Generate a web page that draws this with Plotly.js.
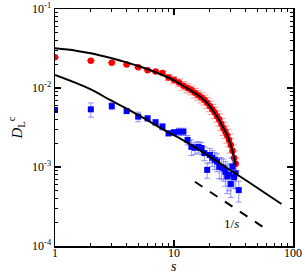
<!DOCTYPE html>
<html><head><meta charset="utf-8">
<script src="https://cdn.plot.ly/plotly-3.0.1.min.js"></script>
<style>html,body{margin:0;padding:0;background:#fff}#plot{width:305px;height:273px}</style>
</head><body><div id="plot"></div>
<script>
// red series (circles)
const redS = [1,2,3,4,5,6,7,8,9,10,11,12,13,14,15,16,17,18,19,20,21,22,23,24,25,26,27,28,29,30,31,32,33];
const redD = [0.0245,0.0222,0.0209,0.0199,0.0183,0.0168,0.0162,0.0155,0.0136,0.0126,0.0117,0.0107,0.0100,0.0094,0.0087,0.0081,0.0076,0.0071,0.0065,0.0059,0.0054,0.0049,0.0044,0.0040,0.0035,0.0031,0.0028,0.0025,0.0022,0.0019,0.0016,0.0013,0.0011];
const redErr = [0,0,0,0,0,0,0,0.0008,0.0012,0.0013,0.0013,0.0013,0.0013,0.0012,0.0012,0.0011,0.0011,0.0010,0.0010,0.0009,0.0008,0.0008,0.0007,0.0007,0.0006,0.0006,0.0005,0.0005,0.0004,0.0004,0.0003,0.0003,0.0002];
// blue series (squares)
const blueS = [1,2,3,4,5,6,7,8,9,10,11,12,13,14,15,16,17,18,19,20,21,22,23,24,25,26,27,28,29,30,31,32,33,35];
const blueD = [0.00527,0.00537,0.0059,0.0051,0.00434,0.00413,0.00368,0.00324,0.00267,0.00275,0.0028,0.0028,0.0022,0.0018,0.00175,0.0018,0.00174,0.0015,0.00092,0.00142,0.00131,0.00123,0.00117,0.00101,0.0010,0.00096,0.00087,0.00076,0.0008,0.00061,0.00101,0.00074,0.00083,0.00051];
const blueErr = [0,0.0011,0.0006,0.0003,0.0006,0.0003,0.0003,0.0003,0.0002,0.0002,0.0003,0.0003,0.0003,0.0004,0.0003,0.0003,0.0003,0.0003,0.0002,0.0003,0.0003,0.0003,0.0003,0.0003,0.0003,0.0003,0.0003,0.0003,0.0003,0.0002,0.0003,0.0002,0.0003,0.00015];
// fitted curve through red
const fitRedS = [1,1.5,2,3,4,5,6,8,10,12,14,16,18,20,22,24,26,28,30,31,32,33];
const fitRedD = [0.0318,0.0297,0.0275,0.0238,0.0211,0.0190,0.0173,0.0146,0.0125,0.0106,0.0092,0.0081,0.0070,0.0059,0.0048,0.0039,0.0031,0.0025,0.0019,0.0016,0.00132,0.00106];
// fitted curve through blue
const fitBlueS = [1,2,2.9,4,6,9.26,11.2,18,26.8,42,80];
const fitBlueD = [0.0146,0.0096,0.00705,0.0055,0.0039,0.00267,0.00231,0.00150,0.00101,0.00065,0.00034];
// 1/s guide
const guideS = [15,60];
const guideD = [0.00065,0.0001625];

const F = 'Liberation Serif, Times New Roman, serif';
function minors(lo, hi){const v=[];for(let e=lo;e<hi;e++){for(let k=2;k<=9;k++)v.push(k*Math.pow(10,e));}return v;}

const traces = [
 {x:redS,y:redD,mode:'markers',type:'scatter',marker:{symbol:'circle',color:'#ff0000',size:6.5},
  error_y:{type:'data',array:redErr,visible:true,color:'rgba(255,60,60,0.55)',thickness:1,width:4}},
 {x:blueS,y:blueD,mode:'markers',type:'scatter',marker:{symbol:'square',color:'#0000ff',size:6},
  error_y:{type:'data',array:blueErr,visible:true,color:'rgba(60,60,255,0.55)',thickness:1,width:3}},
 {x:fitRedS,y:fitRedD,mode:'lines',type:'scatter',line:{color:'black',width:2,shape:'spline'}},
 {x:fitBlueS,y:fitBlueD,mode:'lines',type:'scatter',line:{color:'black',width:2,shape:'spline'}},
 {x:guideS,y:guideD,mode:'lines',type:'scatter',line:{color:'black',width:2,dash:'dash'}}
];

const layout = {
 width:305,height:273,showlegend:false,
 margin:{l:55,r:12,t:9,b:27},
 paper_bgcolor:'#fff',plot_bgcolor:'#fff',
 font:{family:F,size:12,color:'black'},
 xaxis:{type:'log',range:[0,2],showgrid:false,zeroline:false,showline:true,linecolor:'black',linewidth:1.5,
   mirror:'allticks',ticks:'inside',ticklen:6,tickwidth:1.2,tickcolor:'black',ticklabelstandoff:-5,
   tickmode:'array',tickvals:[1,10,100],ticktext:['1','10','100'],tickfont:{family:F,size:12},
   minor:{ticks:'inside',ticklen:3,tickwidth:1,tickcolor:'black',tickmode:'array',tickvals:minors(0,2)},
   title:{text:''}},
 yaxis:{type:'log',range:[-4,-1],showgrid:false,zeroline:false,showline:true,linecolor:'black',linewidth:1.5,
   mirror:'allticks',ticks:'inside',ticklen:6,tickwidth:1.2,tickcolor:'black',
   tickmode:'array',tickvals:[1e-4,1e-3,1e-2,1e-1],
   ticktext:['10<sup>-4</sup>','10<sup>-3</sup>','10<sup>-2</sup>','10<sup>-1</sup>'],tickfont:{family:F,size:12},
   minor:{ticks:'inside',ticklen:3,tickwidth:1,tickcolor:'black',tickmode:'array',tickvals:minors(-4,-1)},
   title:{text:'<i>D</i><sub>L</sub><sup>c</sup>',font:{family:F,size:15},standoff:6}},
 annotations:[
  {x:Math.log10(30.5),y:Math.log10(0.000194),xref:'x',yref:'y',text:'1/<i>s</i>',showarrow:false,font:{family:F,size:13,color:'black'}},
  {x:0.5,y:0,xref:'paper',yref:'paper',yanchor:'top',yshift:-11,text:'<i>s</i>',showarrow:false,font:{family:F,size:14,color:'black'}}
 ]
};
Plotly.newPlot('plot',traces,layout,{displayModeBar:false,staticPlot:true});
</script></body></html>
